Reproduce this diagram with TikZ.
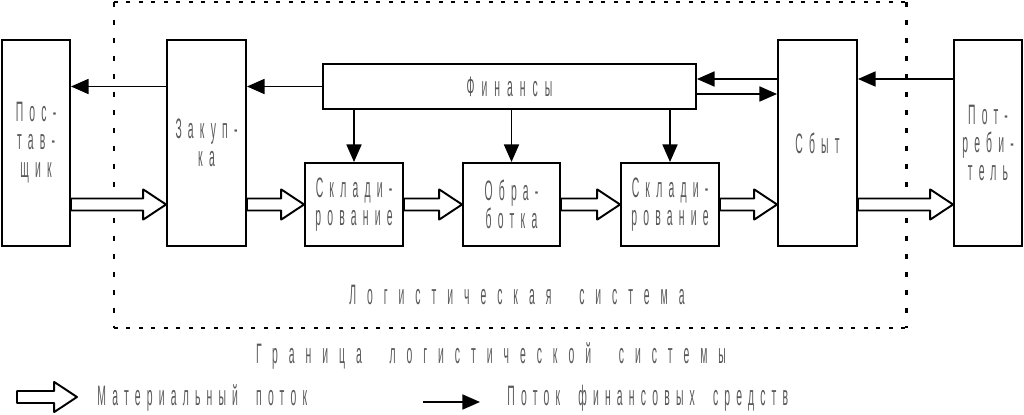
\documentclass[tikz,border=0pt]{standalone}
\usepackage{fontspec}
\usetikzlibrary{arrows.meta,calc}
\newfontfamily\boxfont[FakeStretch=0.37,LetterSpace=22,WordSpace=2]{Liberation Sans}
\newfontfamily\finfont[FakeStretch=0.37,LetterSpace=25,WordSpace=2]{Liberation Sans}
\newfontfamily\sysfont[FakeStretch=0.37,LetterSpace=39,WordSpace=2]{Liberation Sans}
\newfontfamily\legfont[FakeStretch=0.37,LetterSpace=22,WordSpace=2]{Liberation Sans}
% hollow block arrow of the material flow
\newcommand\matflow[2]{%
  \draw[matline] let \p1=(#1), \p2=(#2) in
    (\x1,\y1+3.4pt) -- (\x2-13pt,\y1+3.4pt) -- (\x2-13pt,\y1+8.6pt)
    -- (\x2,\y1) -- (\x2-13pt,\y1-8.6pt) -- (\x2-13pt,\y1-3.4pt)
    -- (\x1,\y1-3.4pt) -- cycle;}
\begin{document}
\begin{tikzpicture}[x=0.02cm,y=-0.02cm,
    blk/.style={draw,line width=1.1pt,inner sep=0pt,align=center,text=black!65,
      font=\boxfont\fontsize{16}{16}\selectfont},
    fin/.style={-{Triangle[length=10pt,width=8.5pt]},line width=1.1pt},
    matline/.style={line width=1.1pt,line join=round,fill=white},
    lbl/.style={inner sep=0pt,text=black!65},
    bordh/.style={line width=1.7pt,dash pattern=on 0.08cm off 0.17cm},
    bordv/.style={line width=1.7pt,dash pattern=on 0.11cm off 0.25cm}]
  \useasboundingbox (0,0) rectangle (1024,415);
  % boundary of the logistic system
  \draw[bordh] (114,2) -- (906,2) (114,328) -- (906,328);
  \draw[bordv] (114,2) -- (114,328) (906,2) -- (906,328);
  \path
    (36,143) node[blk,minimum width=1.36cm,minimum height=4.12cm] (post) {Пос-\\тав-\\щик}
    (206.5,143) node[blk,minimum width=1.58cm,minimum height=4.12cm] (zak) {Закуп-\\ка}
    (509.5,86.5) node[blk,minimum width=7.46cm,minimum height=0.9cm,font=\finfont\fontsize{16}{16}\selectfont] (fin) {Финансы}
    (354,204.5) node[blk,minimum width=1.96cm,minimum height=1.66cm] (skl1) {Склади-\\рование}
    (511.5,204.5) node[blk,minimum width=1.94cm,minimum height=1.66cm] (obr) {Обра-\\ботка}
    (670,204.5) node[blk,minimum width=1.96cm,minimum height=1.66cm] (skl2) {Склади-\\рование}
    (817.5,143) node[blk,minimum width=1.58cm,minimum height=4.12cm] (sbyt) {Сбыт}
    (988,143) node[blk,minimum width=1.36cm,minimum height=4.12cm] (potr) {Пот-\\реби-\\тель};
  \node[lbl,font=\sysfont\fontsize{16}{16}\selectfont] (sys) at (517,295) {Логистическая система};
  \node[lbl,font=\sysfont\fontsize{16}{16}\selectfont] (bound) at (491,356) {Граница логистической системы};
  \coordinate (flow) at (0,204.5);
  \coordinate (fup) at ([yshift=0.15cm]fin.east);
  \coordinate (fdn) at ([yshift=-0.15cm]fin.east);
  % money flow
  \begin{scope}[fin]
    \draw (zak.west |- fin.west) -- (post.east |- fin.west);
    \draw (fin.west) -- (zak.east |- fin.west);
    \draw (skl1.north |- fin.south) -- (skl1.north);
    \draw (obr.north |- fin.south) -- (obr.north);
    \draw (skl2.north |- fin.south) -- (skl2.north);
    \draw (sbyt.west |- fup) -- (fup);
    \draw (fdn) -- (sbyt.west |- fdn);
    \draw (potr.west |- fup) -- (sbyt.east |- fup);
  \end{scope}
  % material flow
  \matflow{post.east |- flow}{zak.west |- flow}
  \matflow{zak.east |- flow}{skl1.west}
  \matflow{skl1.east}{obr.west}
  \matflow{obr.east}{skl2.west}
  \matflow{skl2.east}{sbyt.west |- flow}
  \matflow{sbyt.east |- flow}{potr.west |- flow}
  % legend
  \coordinate (lg1) at (17,397);
  \coordinate (lg2) at (77,397);
  \matflow{lg1}{lg2}
  \node[lbl,anchor=west,font=\legfont\fontsize{16}{16}\selectfont] (tmat) at (97,398) {Материальный поток};
  \coordinate (lf1) at (423,402);
  \coordinate (lf2) at (480,402);
  \draw[fin] (lf1) -- (lf2);
  \node[lbl,anchor=west,font=\legfont\fontsize{16}{16}\selectfont] (tfin) at (507,398) {Поток финансовых средств};
\end{tikzpicture}
\end{document}
